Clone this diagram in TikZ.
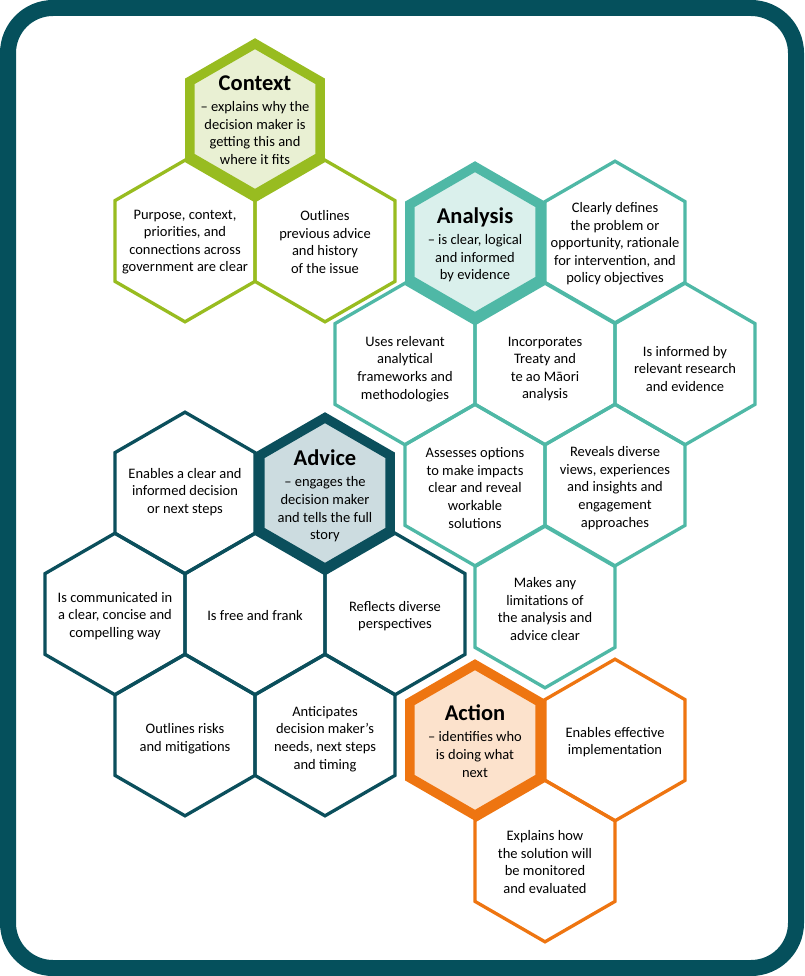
\documentclass[tikz,border=0pt]{standalone}
\usepackage{fontspec}
\setmainfont{Carlito}
\usetikzlibrary{shapes.geometric}
\definecolor{framec}{HTML}{05505C}
\definecolor{ctxc}{HTML}{98BC20}
\definecolor{ctxf}{HTML}{E9F0D3}
\definecolor{anac}{HTML}{4FB8A6}
\definecolor{anaf}{HTML}{DAF0EC}
\definecolor{advc}{HTML}{0B4F5C}
\definecolor{advf}{HTML}{CCDCE0}
\definecolor{actc}{HTML}{EE7511}
\definecolor{actf}{HTML}{FCE2CC}
\tikzset{
  hexbase/.style={regular polygon, regular polygon sides=6, rotate=30, inner sep=0pt, line join=miter},
  hexthin/.style={hexbase, draw=#1, line width=3.3pt, minimum size=161.6pt},
  hexthick/.style 2 args={hexbase, draw=#1, fill=#2, line width=9.5pt, minimum size=150.6pt},
  body/.style={align=center, font=\fontsize{14.5}{17.6}\selectfont, text=black, inner sep=0pt},
}
\newcommand\hextitle[1]{{\fontsize{22.5}{22.5}\selectfont\bfseries #1}\\[3.5pt]}
\begin{document}
\begin{tikzpicture}[x=1pt,y=-1pt]
\useasboundingbox (0,0) rectangle (804,976);
\draw[framec, line width=16pt, rounded corners=45pt] (8,8) rectangle (796,968);

% Context group
\node[hexthin=ctxc] (h-pur) at (185,241) {};
\node[hexthin=ctxc] (h-out) at (325,241) {};
\node[hexthick={ctxc}{ctxf}] (h-ctx) at (255,119) {};
\node[body] (t-ctx) at (255,120) {\hextitle{Context}– explains why the\\decision maker is\\getting this and\\where it fits};
\node[body] (t-pur) at (185,242) {Purpose, context,\\priorities, and\\connections across\\government are clear};
\node[body] (t-out) at (325,242) {Outlines\\previous advice\\and history\\of the issue};

% Analysis group
\node[hexthin=anac] (h-cd) at (615,242) {};
\node[hexthin=anac] (h-use) at (405,364) {};
\node[hexthin=anac] (h-inc) at (545,364) {};
\node[hexthin=anac] (h-inf) at (685,364) {};
\node[hexthin=anac] (h-ass) at (475,485) {};
\node[hexthin=anac] (h-rev) at (615,485) {};
\node[hexthin=anac] (h-mak) at (545,607) {};
\node[hexthick={anac}{anaf}] (h-ana) at (475,242) {};
\node[body] (t-ana) at (475,245) {\hextitle{Analysis}– is clear, logical\\and informed\\by evidence};
\node[body] (t-cd) at (615,244) {Clearly defines\\the problem or\\opportunity, rationale\\for intervention, and\\policy objectives};
\node[body] (t-use) at (405,369) {Uses relevant\\analytical\\frameworks and\\methodologies};
\node[body] (t-inc) at (545,369) {Incorporates\\Treaty and\\te ao Māori\\analysis};
\node[body] (t-inf) at (685,369) {Is informed by\\relevant research\\and evidence};
\node[body] (t-ass) at (475,488) {Assesses options\\to make impacts\\clear and reveal\\workable\\solutions};
\node[body] (t-rev) at (615,488) {Reveals diverse\\views, experiences\\and insights and\\engagement\\approaches};
\node[body] (t-mak) at (545,609) {Makes any\\limitations of\\the analysis and\\advice clear};

% Advice group
\node[hexthin=advc] (h-ecl) at (185,493) {};
\node[hexthin=advc] (h-com) at (115,614) {};
\node[hexthin=advc] (h-fre) at (255,614) {};
\node[hexthin=advc] (h-ref) at (395,614) {};
\node[hexthin=advc] (h-ris) at (185,735) {};
\node[hexthin=advc] (h-ant) at (325,735) {};
\node[hexthick={advc}{advf}] (h-adv) at (325,493) {};
\node[body] (t-adv) at (325,496) {\hextitle{Advice}– engages the\\decision maker\\and tells the full\\story};
\node[body] (t-ecl) at (185,492) {Enables a clear and\\informed decision\\or next steps};
\node[body] (t-com) at (115,616) {Is communicated in\\a clear, concise and\\compelling way};
\node[body] (t-fre) at (255,616) {Is free and frank};
\node[body] (t-ref) at (395,616) {Reflects diverse\\perspectives};
\node[body] (t-ris) at (185,739) {Outlines risks\\and mitigations};
\node[body] (t-ant) at (325,739) {Anticipates\\decision maker’s\\needs, next steps\\and timing};

% Action group
\node[hexthin=actc] (h-eff) at (615,740) {};
\node[hexthin=actc] (h-exp) at (545,861) {};
\node[hexthick={actc}{actf}] (h-act) at (475,740) {};
\node[body] (t-act) at (475,741) {\hextitle{Action}– identifies who\\is doing what\\next};
\node[body] (t-eff) at (615,742) {Enables effective\\implementation};
\node[body] (t-exp) at (545,862) {Explains how\\the solution will\\be monitored\\and evaluated};
\end{tikzpicture}
\end{document}
